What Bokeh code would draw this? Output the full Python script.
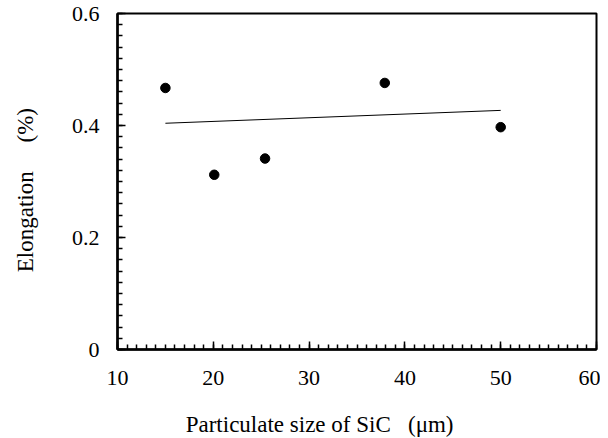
from bokeh.plotting import figure
from bokeh.models import Range1d, FixedTicker, CustomJSTickFormatter
from bokeh.embed import file_html
from bokeh.resources import INLINE

# Data
particle_size = [15.0, 20.1, 25.4, 37.9, 50.0]
elongation = [0.467, 0.312, 0.341, 0.476, 0.397]
trend_x = [15.0, 50.0]
trend_y = [0.404, 0.427]

x_ticks = [10, 20, 30, 40, 50, 60]
x_minor = list(range(10, 61))
y_ticks = [0.0, 0.2, 0.4, 0.6]
y_minor = [round(i * 0.02, 2) for i in range(31)]

x_title = "Particulate size of SiC\u00a0\u00a0\u00a0(\u03bcm)"
y_title = "Elongation\u00a0\u00a0\u00a0\u00a0\u00a0(%)"

FONT = "serif"
NB = "\u00a0"

p = figure(
    output_backend="svg", toolbar_location=None,
    frame_width=479, frame_height=336,
    min_border_left=117, min_border_top=13, min_border_right=4, min_border_bottom=89,
    x_range=Range1d(10, 60), y_range=Range1d(0, 0.6),
)
p.grid.visible = False
p.outline_line_color = "black"
p.outline_line_width = 2
p.background_fill_color = "white"
p.border_fill_color = "white"

p.line(trend_x, trend_y, line_color="black", line_width=1)
p.scatter(particle_size, elongation, size=9.5, fill_color="black", line_color="black")

for ax in (p.xaxis[0], p.yaxis[0]):
    ax.axis_line_width = 2.5
    ax.axis_line_color = "black"
    ax.major_tick_in = 8
    ax.major_tick_out = 0
    ax.minor_tick_in = 5
    ax.minor_tick_out = 0
    ax.major_tick_line_width = 1.5
    ax.minor_tick_line_width = 1.5
    ax.major_label_text_font = FONT
    ax.major_label_text_font_size = "22px"
    ax.major_label_text_color = "black"
    ax.axis_label_text_font = FONT
    ax.axis_label_text_font_size = "23px"
    ax.axis_label_text_font_style = "normal"
    ax.axis_label_text_color = "black"

p.xaxis.ticker = FixedTicker(ticks=x_ticks, minor_ticks=x_minor)
p.yaxis.ticker = FixedTicker(ticks=y_ticks, minor_ticks=y_minor)
p.xaxis.formatter = CustomJSTickFormatter(code="return tick.toFixed(0);")
p.yaxis.formatter = CustomJSTickFormatter(code="return tick == 0 ? '0' : tick.toFixed(1);")

# trailing non-breaking spaces shift the centred titles like in the reference
p.xaxis.axis_label = x_title + NB * 13
p.yaxis.axis_label = y_title + NB * 3
p.xaxis.major_label_standoff = 21
p.xaxis.axis_label_standoff = 24
p.yaxis.major_label_standoff = 18
p.yaxis.axis_label_standoff = 31

open("out.html", "w").write(file_html(p, INLINE))
